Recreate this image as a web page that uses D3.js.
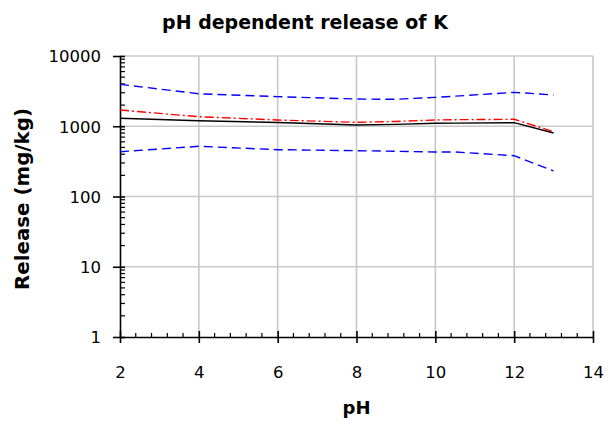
<!DOCTYPE html>
<html><head><meta charset="utf-8">
<script src="https://cdn.jsdelivr.net/npm/d3@7"></script>
<style>body{margin:0;background:#fff}svg{display:block}text{font-family:"DejaVu Sans",Verdana,sans-serif}</style>
</head><body>
<script>
const pH = [2, 4, 6, 8, 9, 10, 10.5, 12, 13];
const upperBlue = [3950, 2900, 2640, 2440, 2420, 2580, 2680, 3040, 2790];
const redLine   = [1700, 1368, 1228, 1138, 1170, 1228, 1240, 1256, 836];
const blackLine = [1300, 1200, 1131, 1042, 1065, 1102, 1108, 1125, 801];
const lowerBlue = [434, 518, 464, 449, 440, 430, 430, 381, 231];
const xTicks = [2, 4, 6, 8, 10, 12, 14];
const yTicks = [1, 10, 100, 1000, 10000];
const title = "pH dependent release of K";
const xTitle = "pH";
const yTitle = "Release (mg/kg)";

const W = 608, H = 425;
const svg = d3.select("body").append("svg").attr("width", W).attr("height", H);
const x = d3.scaleLinear().domain([2, 14]).range([120, 593]);
const y = d3.scaleLog().domain([1, 10000]).range([337, 56]);
const grid = "#c8c8c8";

// fit a text's font size so its width matches a target width
function fit(sel, target) {
  const fs = +sel.attr("font-size");
  const w = sel.node().getComputedTextLength();
  if (w > 0) sel.attr("font-size", (fs * target / w).toFixed(2));
  return sel;
}

// gridlines
svg.append("g").selectAll("line").data(xTicks.slice(1)).join("line")
  .attr("x1", d => x(d)).attr("x2", d => x(d)).attr("y1", y(10000)).attr("y2", y(1))
  .attr("stroke", grid).attr("stroke-width", 1.6);
svg.append("g").selectAll("line").data(yTicks.slice(1)).join("line")
  .attr("x1", x(2)).attr("x2", x(14)).attr("y1", d => y(d)).attr("y2", d => y(d))
  .attr("stroke", grid).attr("stroke-width", 1.6);

// minor ticks
const yMinor = [];
for (let e = 0; e < 4; e++) for (let m = 2; m <= 9; m++) yMinor.push(m * Math.pow(10, e));
svg.append("g").selectAll("line").data(yMinor).join("line")
  .attr("x1", x(2)).attr("x2", x(2) + 5).attr("y1", d => y(d)).attr("y2", d => y(d))
  .attr("stroke", "#000").attr("stroke-width", 1.2);
const xMinor = d3.range(2, 14.001, 0.4).filter(v => Math.abs(v / 2 - Math.round(v / 2)) > 0.01);
svg.append("g").selectAll("line").data(xMinor).join("line")
  .attr("x1", d => x(d)).attr("x2", d => x(d)).attr("y1", y(1)).attr("y2", y(1) - 4)
  .attr("stroke", "#000").attr("stroke-width", 1.2);

// axes
const tickFs = 16.5;
const yAxis = d3.axisLeft(y).tickValues(yTicks).tickFormat(d3.format("d")).tickSizeInner(7).tickSizeOuter(0).tickPadding(6);
const gy = svg.append("g").attr("transform", `translate(${x(2)},0)`).call(yAxis);
gy.select(".domain").attr("stroke", "#000").attr("stroke-width", 1.6);
gy.selectAll(".tick line").attr("stroke", "#000").attr("stroke-width", 1.6).attr("x2", -7).attr("x1", 5);
gy.selectAll(".tick text").attr("font-size", tickFs).attr("fill", "#000").attr("x", -19).attr("dy", "0.36em");

const xAxis = d3.axisBottom(x).tickValues(xTicks).tickSizeInner(6).tickSizeOuter(0).tickPadding(14);
const gx = svg.append("g").attr("transform", `translate(0,${y(1)})`).call(xAxis);
gx.select(".domain").attr("stroke", "#000").attr("stroke-width", 1.6);
gx.selectAll(".tick line").attr("stroke", "#000").attr("stroke-width", 1.6).attr("y1", -6).attr("y2", 6);
gx.selectAll(".tick text").attr("font-size", tickFs).attr("fill", "#000").attr("y", 41).attr("dy", 0);

// lines
const line = arr => d3.line().x((d, i) => x(pH[i])).y(d => y(d))(arr);
svg.append("path").attr("d", line(upperBlue)).attr("fill", "none").attr("stroke", "#0000ff").attr("stroke-width", 1.4).attr("stroke-dasharray", "9,5");
svg.append("path").attr("d", line(lowerBlue)).attr("fill", "none").attr("stroke", "#0000ff").attr("stroke-width", 1.4).attr("stroke-dasharray", "9,5");
svg.append("path").attr("d", line(redLine)).attr("fill", "none").attr("stroke", "#ff0000").attr("stroke-width", 1.4).attr("stroke-dasharray", "9,3,2,3");
svg.append("path").attr("d", line(blackLine)).attr("fill", "none").attr("stroke", "#000").attr("stroke-width", 1.4);

// titles
const t1 = svg.append("text").attr("x", 305).attr("y", 29).attr("text-anchor", "middle")
  .attr("font-size", 16).attr("font-weight", "bold").text(title);
fit(t1, 286);
const t2 = svg.append("text").attr("x", 356.5).attr("y", 414).attr("text-anchor", "middle")
  .attr("font-size", 16).attr("font-weight", "bold").text(xTitle);
fit(t2, 28);
const t3 = svg.append("text").attr("transform", "translate(29,199) rotate(-90)").attr("text-anchor", "middle")
  .attr("font-size", 16).attr("font-weight", "bold").text(yTitle);
fit(t3, 182);
</script>
</body></html>
